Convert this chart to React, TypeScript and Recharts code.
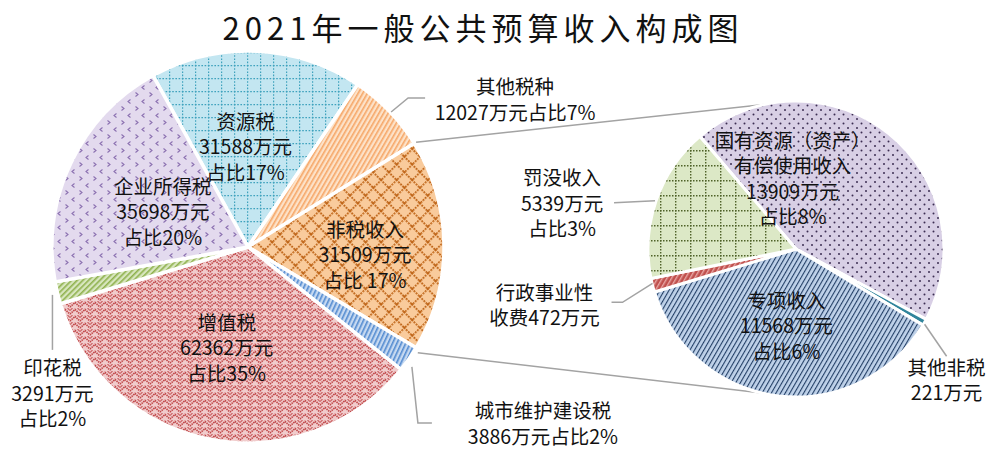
import React from 'react';
import { PieChart, Pie, Cell, Customized } from 'recharts';

const TITLE = '2021年一般公共预算收入构成图';

const mainNames = ['资源税', '其他税种', '非税收入', '城市维护建设税', '增值税', '印花税', '企业所得税'];
const mainValues = [31588, 12027, 31509, 3886, 62362, 3291, 35698];
const mainPercents = ['17%', '7%', ' 17%', '2%', '35%', '2%', '20%'];

const subNames = ['国有资源（资产）有偿使用收入', '其他非税', '专项收入', '行政事业性收费', '罚没收入'];
const subValues = [13909, 221, 11568, 472, 5339];
const subPercents = ['8%', '', '6%', '', '3%'];

type Datum = { name: string; value: number; pct: string };
const mainData: Datum[] = mainNames.map((name, i) => ({ name, value: mainValues[i], pct: mainPercents[i] }));
const subData: Datum[] = subNames.map((name, i) => ({ name, value: subValues[i], pct: subPercents[i] }));

const MAIN = { cx: 248, cy: 247, r: 196, start: 119 };
const SUB = { cx: 796, cy: 249, r: 148, start: 130.5 };
const FONT = "'Noto Sans CJK SC', 'Noto Sans', sans-serif";
const LINE_GRAY = '#a3a3a3';

const mainFills = ['url(#p-ziyuan)', 'url(#p-qita)', 'url(#p-feishui)', 'url(#p-chengjian)', 'url(#p-zengzhi)', 'url(#p-yinhua)', 'url(#p-qiye)'];
const subFills = ['url(#p-guoyou)', '#31859c', 'url(#p-zhuanxiang)', 'url(#p-xingzheng)', 'url(#p-famo)'];

type Layout = {
  lines: (d: Datum) => string[];
  inside?: { r: number; dx: number; dy: number };
  leader?: number[][];
  text?: number[];
};

const three = (d: Datum) => [d.name, `${d.value}万元`, `占比${d.pct}`];

const mainLayout: Layout[] = [
  { lines: three, inside: { r: 102, dx: -7, dy: 2 } },
  { lines: (d) => [d.name, `${d.value}万元占比${d.pct}`], leader: [[2, 1], [19, -13], [36, -13]], text: [126, -11] },
  { lines: three, inside: { r: 102, dx: 15, dy: 9 } },
  { lines: (d) => [d.name, `${d.value}万元占比${d.pct}`], leader: [[3, 8], [9, 64], [23, 64]], text: [134, 65] },
  { lines: three, inside: { r: 102, dx: -2, dy: 1 } },
  { lines: three, leader: [[-5, 2], [-5, 57]], text: [-5, 101] },
  { lines: three, inside: { r: 102, dx: 7, dy: 9 } },
];

const subLayout: Layout[] = [
  { lines: (d) => [d.name.slice(0, 8), d.name.slice(8), `${d.value}万元`, `占比${d.pct}`], inside: { r: 71, dx: -48, dy: -15 } },
  { lines: (d) => [d.name, `${d.value}万元`], leader: [[0, 2], [22, 34]], text: [22, 58] },
  { lines: three, inside: { r: 78, dx: 0, dy: 0 } },
  { lines: (d) => [d.name.slice(0, 5), `${d.name.slice(5)}${d.value}万元`], leader: [[0, -2], [-30, 17], [-41, 17]], text: [-108, 20] },
  { lines: three, leader: [[-1, 0], [-42, 2]], text: [-94, 3] },
];

const RAD = Math.PI / 180;
const polar = (cx: number, cy: number, r: number, a: number) => [cx + r * Math.cos(a * RAD), cy - r * Math.sin(a * RAD)];

const sliceAngles = (values: number[], start: number) => {
  const total = values.reduce((s, v) => s + v, 0);
  let a = start;
  return values.map((v) => {
    const s = a;
    a -= (v / total) * 360;
    return [s, a];
  });
};

const TextBlock = ({ x, y, lines, lh }: { x: number; y: number; lines: string[]; lh: number }) => {
  const top = y - ((lines.length - 1) * lh) / 2;
  return (
    <text x={x} textAnchor="middle" fontSize={19.5} fontFamily={FONT} fill="#111">
      {lines.map((t, i) => (
        <tspan key={i} x={x} y={top + i * lh + 7} style={{ whiteSpace: 'pre' }}>
          {t}
        </tspan>
      ))}
    </text>
  );
};

const makeLabel = (layout: Layout[], data: Datum[], lh: number) => (props: any) => {
  const { cx, cy, midAngle, outerRadius, index } = props;
  const L = layout[index];
  const d = data[index];
  if (!L || !d) return null;
  const lines = L.lines(d);
  if (L.inside) {
    const [x, y] = polar(cx, cy, L.inside.r, midAngle);
    return <TextBlock x={x + L.inside.dx} y={y + L.inside.dy} lines={lines} lh={lh} />;
  }
  const [ex, ey] = polar(cx, cy, outerRadius, midAngle);
  const pts = (L.leader || []).map(([dx, dy]) => `${ex + dx},${ey + dy}`).join(' ');
  const t = L.text || [0, 0];
  return (
    <g>
      <polyline points={pts} fill="none" stroke={LINE_GRAY} strokeWidth={1.5} />
      <TextBlock x={ex + t[0]} y={ey + t[1]} lines={lines} lh={lh} />
    </g>
  );
};

const Connectors = () => {
  const ang = sliceAngles(mainValues, MAIN.start)[2];
  const [x1, y1] = polar(MAIN.cx, MAIN.cy, MAIN.r + 2, ang[0]);
  const [x2, y2] = polar(MAIN.cx, MAIN.cy, MAIN.r + 2, ang[1]);
  return (
    <g>
      <line x1={x1} y1={y1} x2={SUB.cx} y2={SUB.cy - SUB.r} stroke={LINE_GRAY} strokeWidth={1.5} />
      <line x1={x2} y1={y2 + 4} x2={SUB.cx} y2={SUB.cy + SUB.r} stroke={LINE_GRAY} strokeWidth={1.5} />
    </g>
  );
};

const Patterns = () => (
  <svg width={0} height={0} style={{ position: 'absolute' }}>
    <defs>
      <pattern id="p-ziyuan" patternUnits="userSpaceOnUse" width={13} height={13}>
        <rect width={13} height={13} fill="#c3e6f1" />
        <line x1={0} y1={0.6} x2={13} y2={0.6} stroke="#3ea2bd" strokeWidth={1.2} strokeDasharray="1.6 1.6" />
        <line x1={0.6} y1={0} x2={0.6} y2={13} stroke="#3ea2bd" strokeWidth={1.2} strokeDasharray="1.6 1.6" />
      </pattern>
      <pattern id="p-qita" patternUnits="userSpaceOnUse" width={4} height={4} patternTransform="rotate(30)">
        <rect width={4} height={4} fill="#fde2c8" />
        <rect width={1.6} height={4} fill="#f6a768" />
      </pattern>
      <pattern id="p-feishui" patternUnits="userSpaceOnUse" width={11} height={11} patternTransform="rotate(45)">
        <rect width={11} height={11} fill="#f9cb9c" />
        <line x1={0} y1={0.8} x2={11} y2={0.8} stroke="#bf6518" strokeWidth={1.7} strokeDasharray="2 1" />
        <line x1={0.8} y1={0} x2={0.8} y2={11} stroke="#bf6518" strokeWidth={1.7} strokeDasharray="2 1" />
      </pattern>
      <pattern id="p-chengjian" patternUnits="userSpaceOnUse" width={4} height={4} patternTransform="rotate(25)">
        <rect width={4} height={4} fill="#c6d9f1" />
        <rect width={1.6} height={4} fill="#538bd0" />
      </pattern>
      <pattern id="p-zengzhi" patternUnits="userSpaceOnUse" width={10} height={7}>
        <rect width={10} height={7} fill="#f1cccc" />
        <polyline points="0,6 5,1.5 10,6" fill="none" stroke="#c0484a" strokeWidth={1.7} strokeDasharray="1.4 0.8" />
        <polyline points="0,2.5 2.5,0" fill="none" stroke="#cc6466" strokeWidth={1.2} />
        <polyline points="7.5,0 10,2.5" fill="none" stroke="#cc6466" strokeWidth={1.2} />
      </pattern>
      <pattern id="p-yinhua" patternUnits="userSpaceOnUse" width={4} height={4} patternTransform="rotate(45)">
        <rect width={4} height={4} fill="#d8e6bf" />
        <rect width={1.6} height={4} fill="#8fb24e" />
      </pattern>
      <pattern id="p-qiye" patternUnits="userSpaceOnUse" width={14} height={14}>
        <rect width={14} height={14} fill="#e3daee" />
        <path d="M4.5 1.5 L2 3.5 L4.5 5.5" fill="none" stroke="#8a6fb0" strokeWidth={1.1} />
        <path d="M9.5 8.5 L12 10.5 L9.5 12.5" fill="none" stroke="#8a6fb0" strokeWidth={1.1} />
      </pattern>
      <pattern id="p-guoyou" patternUnits="userSpaceOnUse" width={9} height={9}>
        <rect width={9} height={9} fill="#d8cfe5" />
        <circle cx={2} cy={2} r={1} fill="#3c2d52" />
        <circle cx={6.5} cy={6.5} r={1} fill="#3c2d52" />
      </pattern>
      <pattern id="p-zhuanxiang" patternUnits="userSpaceOnUse" width={4} height={4} patternTransform="rotate(30)">
        <rect width={4} height={4} fill="#bfd2ea" />
        <rect width={1.1} height={4} fill="#233f66" />
      </pattern>
      <pattern id="p-famo" patternUnits="userSpaceOnUse" width={15} height={15}>
        <rect width={15} height={15} fill="#dce8c6" />
        <line x1={0} y1={0.7} x2={15} y2={0.7} stroke="#4f6228" strokeWidth={1.4} strokeDasharray="1.5 1.5" />
        <line x1={0.7} y1={0} x2={0.7} y2={15} stroke="#4f6228" strokeWidth={1.4} strokeDasharray="1.5 1.5" />
      </pattern>
      <pattern id="p-xingzheng" patternUnits="userSpaceOnUse" width={4} height={4} patternTransform="rotate(30)">
        <rect width={4} height={4} fill="#c0504d" />
        <rect width={1.4} height={4} fill="#e8a7a5" />
      </pattern>
    </defs>
  </svg>
);

export default function App() {
  return (
    <div style={{ position: 'absolute', left: 0, top: 0, width: 992, height: 449, background: '#fff' }}>
      <Patterns />
      <PieChart width={992} height={449} margin={{ top: 0, right: 0, bottom: 0, left: 0 }}>
        <text x={483} y={40} textAnchor="middle" fontSize={31} fontFamily={FONT} fill="#111" letterSpacing={5}>
          {TITLE}
        </text>
        <Customized component={Connectors} />
        <Pie
          data={mainData}
          dataKey="value"
          nameKey="name"
          cx={MAIN.cx}
          cy={MAIN.cy}
          outerRadius={MAIN.r}
          startAngle={MAIN.start}
          endAngle={MAIN.start - 360}
          stroke="#ffffff"
          strokeWidth={3.5}
          isAnimationActive={false}
          labelLine={false}
          label={makeLabel(mainLayout, mainData, 25.5)}
        >
          {mainData.map((d, i) => (
            <Cell key={d.name} fill={mainFills[i]} />
          ))}
        </Pie>
        <Pie
          data={subData}
          dataKey="value"
          nameKey="name"
          cx={SUB.cx}
          cy={SUB.cy}
          outerRadius={SUB.r}
          startAngle={SUB.start}
          endAngle={SUB.start - 360}
          stroke="#ffffff"
          strokeWidth={3}
          isAnimationActive={false}
          labelLine={false}
          label={makeLabel(subLayout, subData, 25.5)}
        >
          {subData.map((d, i) => (
            <Cell key={d.name} fill={subFills[i]} />
          ))}
        </Pie>
      </PieChart>
    </div>
  );
}
